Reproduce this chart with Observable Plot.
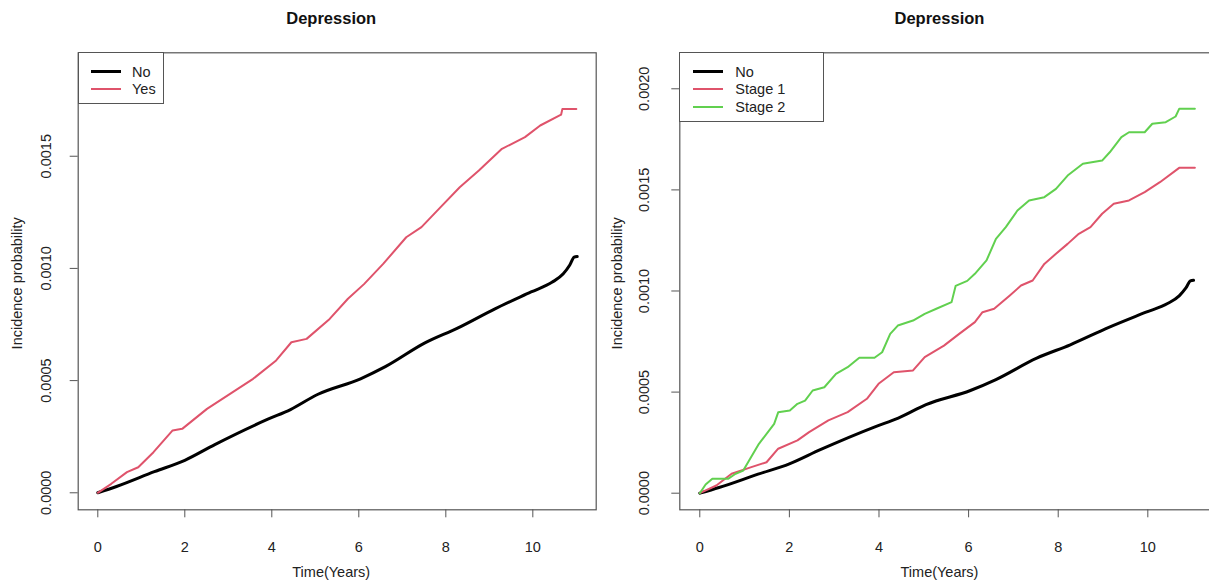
<!DOCTYPE html>
<html><head><meta charset="utf-8">
<script src="https://cdn.jsdelivr.net/npm/d3@7"></script>
<script src="https://cdn.jsdelivr.net/npm/@observablehq/plot@0.6"></script>
<style>
html,body{margin:0;padding:0;background:#fff;overflow:hidden;width:1209px;height:581px;}
#wrap{position:relative;width:1209px;height:581px;overflow:hidden;font-family:"Liberation Sans",Arial,sans-serif;color:#222;}
.panel{position:absolute;top:0;}
.legend{position:absolute;border:1px solid #555;background:#fff;box-sizing:border-box;}
.legend .ln{position:absolute;}
.legend .tx{position:absolute;font-size:14.5px;line-height:16px;transform:translateY(-50%);white-space:nowrap;}
</style></head><body><div id="wrap"></div>
<script>
// ---- data ----
const title = "Depression";
const xLabel = "Time(Years)";
const yLabel = "Incidence probability";
const xTicks = [0, 2, 4, 6, 8, 10];
const yTicksLeft = [0, 0.0005, 0.0010, 0.0015];
const yTicksRight = [0, 0.0005, 0.0010, 0.0015, 0.0020];

const noT = [0, 0.43, 1.3, 2.0, 2.69, 3.91, 4.43, 5.05, 6.04, 6.61, 7.52, 8.27, 9.13, 9.96, 10.44, 10.7, 10.85, 10.95, 11.02];
const noV = [0, 0.000028, 0.000094, 0.000145, 0.000215, 0.000328, 0.000371, 0.000438, 0.000508, 0.000562, 0.000668, 0.000734, 0.00082, 0.000895, 0.000938, 0.000976, 0.001015, 0.00105, 0.001053];

const yesT = [0, 0.31, 0.67, 0.93, 1.28, 1.72, 1.94, 2.51, 3.04, 3.57, 4.10, 4.45, 4.80, 5.33, 5.75, 6.12, 6.56, 7.09, 7.44, 7.88, 8.32, 8.76, 9.29, 9.82, 10.17, 10.65, 10.68, 11.0];
const yesV = [0, 0.00004, 0.000092, 0.000114, 0.000181, 0.000278, 0.000285, 0.000374, 0.000441, 0.000508, 0.00059, 0.000671, 0.000686, 0.000775, 0.000865, 0.00093, 0.00102, 0.001139, 0.001184, 0.001273, 0.001362, 0.001436, 0.001533, 0.001585, 0.001637, 0.001685, 0.001711, 0.001711];

const stage1T = [0, 0.37, 0.71, 1.15, 1.49, 1.75, 2.18, 2.44, 2.87, 3.30, 3.73, 3.99, 4.33, 4.76, 5.02, 5.45, 5.79, 6.14, 6.31, 6.57, 6.92, 7.17, 7.43, 7.69, 7.95, 8.21, 8.46, 8.72, 8.98, 9.24, 9.58, 9.93, 10.27, 10.70, 11.05];
const stage1V = [0, 0.000038, 0.000096, 0.000129, 0.000153, 0.00022, 0.000261, 0.000302, 0.00036, 0.000401, 0.000467, 0.000541, 0.000598, 0.000607, 0.000673, 0.00073, 0.000788, 0.000846, 0.000895, 0.000912, 0.000978, 0.001027, 0.001052, 0.001134, 0.001184, 0.001233, 0.001283, 0.001316, 0.001382, 0.001431, 0.001448, 0.001489, 0.001538, 0.001609, 0.001609];

const stage2T = [0, 0.13, 0.28, 0.63, 0.80, 0.97, 1.32, 1.66, 1.75, 2.01, 2.18, 2.35, 2.52, 2.78, 3.04, 3.30, 3.56, 3.90, 4.07, 4.25, 4.42, 4.76, 5.02, 5.28, 5.62, 5.71, 5.97, 6.14, 6.40, 6.61, 6.83, 7.09, 7.35, 7.69, 7.95, 8.21, 8.55, 8.98, 9.15, 9.41, 9.58, 9.93, 10.10, 10.40, 10.62, 10.70, 11.05];
const stage2V = [0, 0.000043, 0.000071, 0.000071, 0.000096, 0.000112, 0.000244, 0.000343, 0.0004, 0.000409, 0.000442, 0.000458, 0.000508, 0.000524, 0.00059, 0.000623, 0.00067, 0.00067, 0.000697, 0.000788, 0.000829, 0.000854, 0.000887, 0.000912, 0.000945, 0.001025, 0.00105, 0.001085, 0.001151, 0.001258, 0.001316, 0.001398, 0.001448, 0.001464, 0.001505, 0.001571, 0.001629, 0.001645, 0.001686, 0.001761, 0.001785, 0.001785, 0.001827, 0.001835, 0.001863, 0.001901, 0.001901];

const namesLeft = ["No", "Yes"];
const namesRight = ["No", "Stage 1", "Stage 2"];
const colors = {"No": "#000000", "Yes": "#DF536B", "Stage 1": "#DF536B", "Stage 2": "#61D04F"};
const widths = {"No": 3, "Yes": 2, "Stage 1": 2, "Stage 2": 2};
const curves = {"No": "monotone-x", "Yes": "linear", "Stage 1": "linear", "Stage 2": "linear"};

// ---- build ----
const fmt = d3.format(".4f");
const font = "Liberation Sans, Arial, sans-serif";

function toRows(name, T, V) { return T.map((t, i) => ({name, t, v: V[i]})); }

function panel(o) {
  const lines = o.series.map(s => Plot.line(s.rows, {x: "t", y: "v", stroke: colors[s.name], strokeWidth: widths[s.name], curve: curves[s.name], strokeLinejoin: "round"}));
  return Plot.plot({
    width: o.width, height: 581,
    marginLeft: o.marginLeft, marginRight: o.marginRight, marginTop: 52.3, marginBottom: 581 - 509.3,
    style: {fontFamily: font, fontSize: "14.5px", color: "#222", background: "transparent", overflow: "visible"},
    x: {domain: o.xDomain, label: null},
    y: {domain: o.yDomain, label: null},
    marks: [
      Plot.axisX({ticks: xTicks, tickSize: 8, stroke: "#555", tickFormat: () => "", label: null}),
      Plot.axisY({ticks: o.yTicks, tickSize: 8, stroke: "#555", tickFormat: () => "", label: null}),
      Plot.text(xTicks, {x: d => d, text: d => String(d), frameAnchor: "bottom", dy: 37.2, lineAnchor: "middle", fill: "#222"}),
      Plot.text(o.yTicks, {y: d => d, text: d => fmt(d), frameAnchor: "left", dx: o.tickDx, rotate: -90, textAnchor: "middle", lineAnchor: "middle", fill: "#222"}),
      Plot.text([xLabel], {text: d => d, frameAnchor: "bottom", dy: 62.5, dx: o.titleDx, lineAnchor: "middle", fill: "#222"}),
      Plot.text([yLabel], {text: d => d, frameAnchor: "left", dx: o.labelDx, dy: 2, rotate: -90, textAnchor: "middle", lineAnchor: "middle", fill: "#222"}),
      Plot.text([title], {text: d => d, frameAnchor: "top", dy: -33.8, dx: o.titleDx, lineAnchor: "middle", fontWeight: "bold", fontSize: 16.5, fill: "#111"}),
      ...lines,
      Plot.frame({stroke: "#555", strokeWidth: 1.2})
    ]
  });
}

const wrap = document.getElementById("wrap");

function addPanel(left, o) {
  const el = panel(o);
  el.classList.add("panel");
  el.style.left = left + "px";
  wrap.appendChild(el);
}

function addLegend(names, box) {
  const lg = document.createElement("div");
  lg.className = "legend";
  lg.style.left = box.left + "px";
  lg.style.top = box.top + "px";
  lg.style.width = box.width + "px";
  lg.style.height = box.height + "px";
  names.forEach((n, i) => {
    const cy = 18.3 + i * 17.8;
    const ln = document.createElement("div");
    ln.className = "ln";
    ln.style.left = box.lineX0 + "px";
    ln.style.width = (box.lineX1 - box.lineX0) + "px";
    ln.style.height = widths[n] + "px";
    ln.style.top = (cy - widths[n] / 2) + "px";
    ln.style.background = colors[n];
    lg.appendChild(ln);
    const tx = document.createElement("div");
    tx.className = "tx";
    tx.style.left = box.textX + "px";
    tx.style.top = cy + "px";
    tx.textContent = n;
    lg.appendChild(tx);
  });
  wrap.appendChild(lg);
}

addPanel(0, {
  width: 604, marginLeft: 77.7, marginRight: 8.3,
  xDomain: [-0.4506, 11.457], yDomain: [-0.0000758, 0.001961],
  yTicks: yTicksLeft, tickDx: -32, labelDx: -60.7, titleDx: -6,
  series: [
    {name: "No", rows: toRows("No", noT, noV)},
    {name: "Yes", rows: toRows("Yes", yesT, yesV)}
  ]
});
addPanel(604, {
  width: 609, marginLeft: 75.3, marginRight: 0.4,
  xDomain: [-0.446, 11.457], yDomain: [-0.0000821, 0.002178],
  yTicks: yTicksRight, tickDx: -35, labelDx: -62.3, titleDx: -7,
  series: [
    {name: "No", rows: toRows("No", noT, noV)},
    {name: "Stage 1", rows: toRows("Stage 1", stage1T, stage1V)},
    {name: "Stage 2", rows: toRows("Stage 2", stage2T, stage2V)}
  ]
});

addLegend(namesLeft, {left: 77.7, top: 52.3, width: 86.5, height: 52.2, lineX0: 12.5, lineX1: 42, textX: 53.3});
addLegend(namesRight, {left: 679.3, top: 52.3, width: 144.5, height: 69.5, lineX0: 12.7, lineX1: 42.4, textX: 55});
</script></body></html>
